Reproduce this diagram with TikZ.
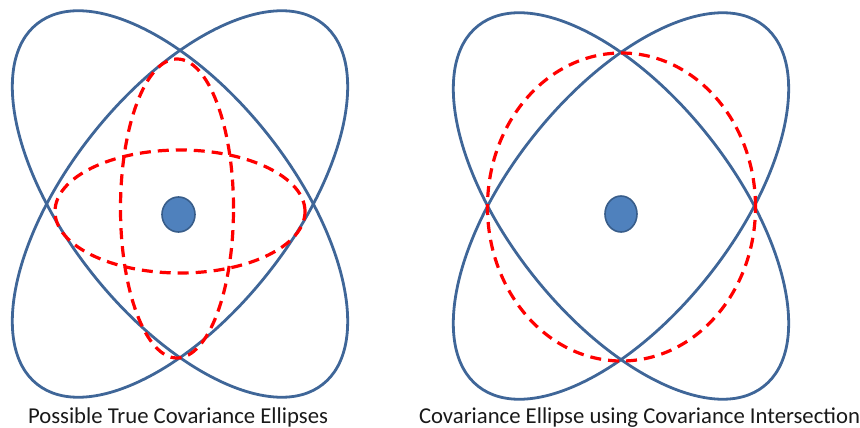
\documentclass[tikz,border=0pt]{standalone}
\usepackage{fontspec}
\setmainfont{Carlito}
\definecolor{ellblue}{HTML}{3F6698}
\definecolor{dotfill}{HTML}{4F81BD}
\definecolor{dotline}{HTML}{385D8A}
\definecolor{cired}{HTML}{FF0000}
\begin{document}
\begin{tikzpicture}[x=1pt,y=-1pt,
  blueell/.style={draw=ellblue,line width=2.8pt},
  redell/.style={draw=cired,line width=3.2pt,dash pattern=on 11pt off 7pt},
  meandot/.style={fill=dotfill,draw=dotline,line width=1.6pt},
  caption/.style={font=\fontsize{22.7}{24}\selectfont,text=black!90,inner sep=0pt,anchor=base}]
\useasboundingbox (0,0) rectangle (860,428);
% left figure
\coordinate (cL) at (180,204);
\draw[blueell, rotate around={-51.6:(cL)}] (cL) ellipse [x radius=230pt, y radius=112pt];
\draw[blueell, rotate around={51.6:(cL)}] (cL) ellipse [x radius=230pt, y radius=112pt];
\draw[redell] (180,211.5) ellipse [x radius=125pt, y radius=61.5pt];
\draw[redell] (177,208.5) ellipse [x radius=56.5pt, y radius=149.5pt];
\draw[meandot] (178.5,214.5) ellipse [x radius=16.5pt, y radius=17.5pt];
% right figure
\coordinate (cR) at (621,206);
\draw[blueell, rotate around={-51.6:(cR)}] (cR) ellipse [x radius=230pt, y radius=112pt];
\draw[blueell, rotate around={51.6:(cR)}] (cR) ellipse [x radius=230pt, y radius=112pt];
\draw[redell] (621.5,207) ellipse [x radius=134pt, y radius=154pt];
\draw[meandot] (621,214) ellipse [x radius=16pt, y radius=18pt];
% captions
\node[caption] (capL) at (178,423) {Possible True Covariance Ellipses};
\node[caption] (capR) at (639.5,423) {Covariance Ellipse using Covariance Intersection};
\end{tikzpicture}
\end{document}
